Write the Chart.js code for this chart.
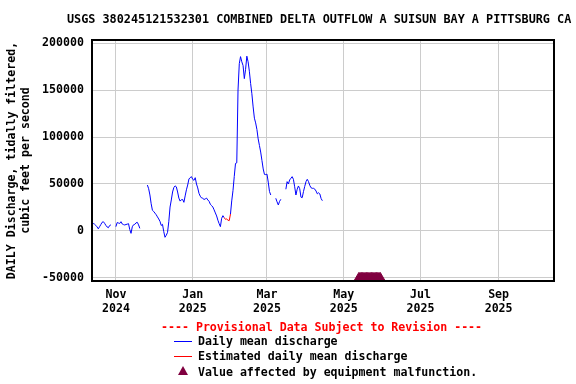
<!DOCTYPE html>
<html>
<head>
<meta charset="utf-8">
<script src="https://cdn.jsdelivr.net/npm/chart.js@4.4.1/dist/chart.umd.min.js"></script>
<style>
  body { margin: 0; background: #fff; }
  #wrap { position: relative; width: 576px; height: 384px; }
  #wrap canvas { position: absolute; left: 0; top: 0; }
  .txt { position: absolute; font-family: 'DejaVu Sans Mono', monospace; font-weight: bold;
         font-size: 11.6px; line-height: 14px; white-space: pre; color: #000; }
  .sample { position: absolute; height: 1px; width: 18px; }
  .tri { position: absolute; width: 0; height: 0; border-left: 5.5px solid transparent;
         border-right: 5.5px solid transparent; border-bottom: 9px solid #800040; }
</style>
</head>
<body>
<div id="wrap">
  <canvas id="flowChart" width="576" height="384"></canvas>
  <div class="txt" style="left:67px; top:12px; font-size:11.8px;">USGS 380245121532301 COMBINED DELTA OUTFLOW A SUISUN BAY A PITTSBURG CA</div>
  <div class="txt" style="left:161px; top:320px; color:#ff0000;">---- Provisional Data Subject to Revision ----</div>
  <div class="sample" style="left:174px; top:341px; background:#0000ff;"></div>
  <div class="txt" style="left:198px; top:334px;">Daily mean discharge</div>
  <div class="sample" style="left:174px; top:356px; background:#ff0000;"></div>
  <div class="txt" style="left:198px; top:349px;">Estimated daily mean discharge</div>
  <div class="tri" style="left:178px; top:366px;"></div>
  <div class="txt" style="left:198px; top:365px;">Value affected by equipment malfunction.</div>
</div>
<script>
// —————— DATA ——————
const seriesStart = '2024-10-13';   // first day of dailyMean
const dailyMean = [
  8500, 8000, 7300, 6000, 4400, 2300, 4500, 6800, 9200, 9900,
  8200, 6000, 4300, 3500, 5800, 6500, null, null, null, 4600,
  9000, 8500, 8000, 9900, 7500, 6800, 6400, 6900, 7300, 7800,
  1500, -2500, 4500, 6600, 7100, 8700, 9200, 6500, 2800, null,
  null, null, null, null, 48900, 45000, 38300, 29000, 22000, 20800,
  19000, 17300, 15000, 12800, 10300, 5900, 7100, -700, -6700, -4500,
  -1500, 9900, 25500, 33000, 41500, 46200, 48000, 47000, 41500, 35000,
  31800, 33300, 33500, 30500, 37300, 43800, 48900, 55300, 56800, 57800,
  55000, 53900, 56700, 50000, 45800, 40000, 37000, 35200, 34800, 33500,
  34200, 35000, 33000, 31600, 28500, 27000, 25500, 22500, 19200, 16000,
  11500, 7800, 4600, 13500, 16300, 14200, null, null, null, null,
  18000, 32000, 43000, 58000, 71900, 72500, 150000, 178000, 185500, 180000,
  176000, 162100, 172000, 186000, 180000, 170000, 157000, 146000, 132000, 120000,
  115000, 108000, 98000, 91000, 84000, 75000, 66000, 60200, 60000, 60500,
  52000, 42000, 38300, null, null, null, 34800, 31000, 27700, 31500,
  33700, null, null, null, 44400, 52500, 50000, 54300, 56100, 57800,
  55000, 47000, 38300, 44500, 47900, 45000, 36000, 35500, 42000, 47500,
  52500, 55000, 52500, 48500, 46000, 45400, 45400, 44500, 42500, 39500,
  40700, 39400, 34500, 32200
];

const estimatedStart = '2025-01-26';
const estimatedMean = [14200, 12400, 12800, 11500, 11000, 18000];

const malfunctionDates = [
  '2025-05-13', '2025-05-14', '2025-05-15', '2025-05-16', '2025-05-17', '2025-05-18',
  '2025-05-19', '2025-05-20', '2025-05-21', '2025-05-22', '2025-05-23', '2025-05-24',
  '2025-05-25', '2025-05-26', '2025-05-27', '2025-05-28', '2025-05-29', '2025-05-30'
];
const malfunctionLevel = -50000; // markers sit on the bottom tick

const yTicks = [-50000, 0, 50000, 100000, 150000, 200000];
const xTickDates = ['2024-11-01', '2025-01-01', '2025-03-01', '2025-05-01', '2025-07-01', '2025-09-01'];
const xTickLabels = [['Nov', '2024'], ['Jan', '2025'], ['Mar', '2025'], ['May', '2025'], ['Jul', '2025'], ['Sep', '2025']];
const xRange = ['2024-10-13', '2025-10-15'];
const yRange = [-53200, 203200];

// —————— HELPERS ——————
const base = Date.UTC(2024, 9, 13);
function dayIdx(s) {
  const [y, m, d] = s.split('-').map(Number);
  return (Date.UTC(y, m - 1, d) - base) / 864e5;
}
function toPoints(start, vals) {
  const s = dayIdx(start);
  return vals.map((v, i) => ({ x: s + i, y: v }));
}

const font = { family: "'DejaVu Sans Mono', monospace", size: 11.6, weight: 'bold', lineHeight: 1.2 };

// box round the plot area
const framePlugin = {
  id: 'frame',
  afterDraw(chart) {
    const { ctx, chartArea: a } = chart;
    ctx.save();
    ctx.strokeStyle = '#000';
    ctx.lineWidth = 2;
    ctx.strokeRect(a.left, a.top, a.right - a.left, a.bottom - a.top);
    ctx.restore();
  }
};

// —————— CHART ——————
new Chart(document.getElementById('flowChart'), {
  type: 'line',
  data: {
    datasets: [
      {
        label: 'Estimated daily mean discharge',
        data: toPoints(estimatedStart, estimatedMean),
        borderColor: '#ff0000',
        borderWidth: 1,
        pointRadius: 0,
        order: 0
      },
      {
        label: 'Daily mean discharge',
        data: toPoints(seriesStart, dailyMean),
        borderColor: '#0000ff',
        borderWidth: 1,
        pointRadius: 0,
        spanGaps: false,
        order: 1
      },
      {
        label: 'Value affected by equipment malfunction.',
        data: malfunctionDates.map(d => ({ x: dayIdx(d), y: malfunctionLevel })),
        showLine: false,
        pointStyle: 'triangle',
        pointRadius: 5.6,
        backgroundColor: '#800040',
        borderColor: '#800040',
        borderWidth: 1,
        order: 2
      }
    ]
  },
  options: {
    responsive: false,
    animation: false,
    layout: { padding: { top: 40, right: 22, bottom: 63, left: 0 } },
    plugins: {
      legend: { display: false },
      tooltip: { enabled: false }
    },
    scales: {
      x: {
        type: 'linear',
        min: dayIdx(xRange[0]),
        max: dayIdx(xRange[1]),
        afterBuildTicks: s => { s.ticks = xTickDates.map(d => ({ value: dayIdx(d) })); },
        afterFit: s => { s.height = 40; },
        border: { display: false },
        grid: { color: '#cccccc', drawTicks: false },
        ticks: {
          autoSkip: false,
          maxRotation: 0,
          padding: 7,
          color: '#000',
          font: font,
          callback: (v, i) => xTickLabels[i]
        }
      },
      y: {
        min: yRange[0],
        max: yRange[1],
        afterBuildTicks: s => { s.ticks = yTicks.map(v => ({ value: v })); },
        afterFit: s => { s.width = 92; },
        border: { display: false },
        grid: { color: '#cccccc', drawTicks: false },
        ticks: {
          padding: 8,
          color: '#000',
          font: font,
          callback: v => String(v)
        },
        title: {
          display: true,
          text: ['DAILY Discharge, tidally filtered,', 'cubic feet per second'],
          color: '#000',
          font: font,
          padding: { top: 5, bottom: 0 }
        }
      }
    }
  },
  plugins: [framePlugin]
});
</script>
</body>
</html>
